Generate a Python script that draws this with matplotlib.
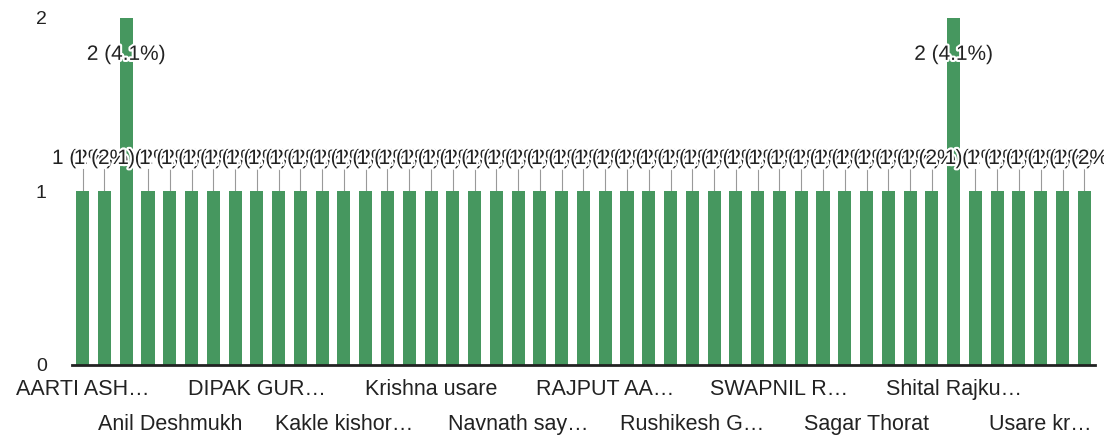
import matplotlib.pyplot as plt
import matplotlib.patheffects as pe

# responses per name (47 names, 49 responses in total)
counts = [1, 1, 2, 1, 1, 1, 1, 1, 1, 1, 1, 1, 1, 1, 1, 1,
          1, 1, 1, 1, 1, 1, 1, 1, 1, 1, 1, 1, 1, 1, 1, 1,
          1, 1, 1, 1, 1, 1, 1, 1, 2, 1, 1, 1, 1, 1, 1]
# only every 4th name is printed under the axis
shown_labels = ["AARTI ASH\u2026", "Anil Deshmukh", "DIPAK GUR\u2026",
                "Kakle kishor\u2026", "Krishna usare", "Navnath say\u2026",
                "RAJPUT AA\u2026", "Rushikesh G\u2026", "SWAPNIL R\u2026",
                "Sagar Thorat", "Shital Rajku\u2026", "Usare kr\u2026"]
label_step = 4
y_ticks = [0, 1, 2]

plt.rcParams['font.family'] = ['Liberation Sans', 'DejaVu Sans']
bar_color = '#46975f'
text_color = '#222222'

fig = plt.figure(figsize=(11.04, 4.38), dpi=100)
ax = fig.add_axes([0.065, 0.1667, 0.927, 0.7923])

x = list(range(len(counts)))
ax.bar(x, counts, width=0.6, color=bar_color, zorder=2)

total = sum(counts)
halo = [pe.withStroke(linewidth=3, foreground='white')]
for i, c in enumerate(counts):
    pct = 100.0 * c / total
    pct_txt = ('%.1f' % pct).rstrip('0').rstrip('.')
    txt = '%d (%s%%)' % (c, pct_txt)
    if c >= 2:
        ax.text(i, c - 0.21, txt, ha='center', va='center', fontsize=15,
                color=text_color, path_effects=halo, zorder=4)
    else:
        ax.plot([i, i], [c, c + 0.13], color='#999999', lw=0.8, zorder=1)
        ax.text(i, c + 0.19, txt, ha='center', va='center', fontsize=15,
                color=text_color, path_effects=halo, zorder=3)

ax.set_xlim(-0.5, len(counts) - 0.5)
ax.set_ylim(0, 2)
ax.set_yticks(y_ticks)
ax.set_yticklabels([str(t) for t in y_ticks])

pos = list(range(0, len(counts), label_step))
ax.set_xticks(pos[0::2])
ax.set_xticklabels(shown_labels[0::2])
ax.set_xticks(pos[1::2], minor=True)
ax.set_xticklabels(shown_labels[1::2], minor=True)

ax.tick_params(axis='x', which='major', length=0, pad=10, labelsize=15.5, labelcolor=text_color)
ax.tick_params(axis='x', which='minor', length=0, pad=35, labelsize=15.5, labelcolor=text_color)
ax.tick_params(axis='y', length=0, pad=18, labelsize=14, labelcolor=text_color)

for s in ['top', 'right', 'left']:
    ax.spines[s].set_visible(False)
ax.spines['bottom'].set_color('#222222')
ax.spines['bottom'].set_linewidth(2)
ax.spines['bottom'].set_zorder(5)

fig.savefig('out.png', dpi=100)
